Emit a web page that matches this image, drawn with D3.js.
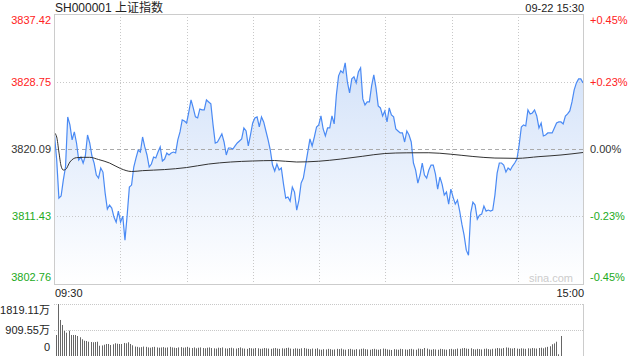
<!DOCTYPE html>
<html>
<head>
<meta charset="utf-8">
<script src="https://cdn.jsdelivr.net/npm/d3@7"></script>
<style>
  body { margin: 0; background: #fff; }
  svg text { font-family: "Liberation Sans", Arial, "Noto Sans CJK SC", sans-serif; }
</style>
</head>
<body>
<script>
// minute by minute close, 09:30 .. 15:00 (241 points)
var prices = [
  3821.89, 3818.68, 3813.79, 3814.05, 3816.10, 3817.78, 3824.21, 3823.18, 3821.25, 3822.28,
  3820.86, 3818.68, 3819.06, 3818.29, 3819.19, 3821.89, 3820.86, 3819.19, 3818.29, 3816.75,
  3816.36, 3817.65, 3817.13, 3814.43, 3812.37, 3812.89, 3812.50, 3811.35, 3810.70, 3812.12,
  3810.70, 3811.47, 3808.39, 3811.60, 3815.20, 3815.46, 3817.78, 3818.93, 3819.96, 3819.70,
  3821.63, 3820.35, 3819.32, 3817.78, 3818.16, 3819.06, 3818.93, 3819.70, 3820.35, 3818.55,
  3818.80, 3819.58, 3819.32, 3819.58, 3819.70, 3819.58, 3821.25, 3822.28, 3823.82, 3823.69,
  3823.43, 3824.85, 3826.39, 3825.36, 3824.21, 3824.08, 3825.23, 3825.11, 3825.11, 3826.39,
  3826.13, 3825.88, 3823.18, 3820.86, 3820.99, 3821.50, 3822.02, 3820.99, 3819.32, 3820.22,
  3820.22, 3820.09, 3820.48, 3820.86, 3821.12, 3821.38, 3822.79, 3822.40, 3820.48, 3821.89,
  3823.43, 3824.08, 3824.21, 3822.92, 3824.21, 3823.56, 3822.40, 3821.25, 3819.96, 3818.03,
  3817.26, 3818.16, 3817.39, 3817.65, 3815.59, 3813.79, 3813.92, 3813.40, 3815.20, 3814.56,
  3812.25, 3813.53, 3815.72, 3816.36, 3818.03, 3819.70, 3821.38, 3820.48, 3821.63, 3822.92,
  3823.18, 3824.33, 3822.66, 3821.76, 3822.79, 3822.79, 3824.33, 3823.31, 3827.03, 3829.48,
  3830.12, 3829.86, 3831.15, 3828.71, 3827.29, 3829.09, 3829.35, 3828.58, 3829.99, 3830.51,
  3826.52, 3825.75, 3826.13, 3826.13, 3828.19, 3829.61, 3827.93, 3825.62, 3825.36, 3824.33,
  3824.98, 3823.56, 3825.36, 3824.46, 3824.21, 3822.66, 3822.40, 3822.15, 3822.15, 3820.99,
  3822.40, 3821.89, 3820.99, 3818.29, 3817.39, 3815.72, 3816.75, 3818.29, 3816.75, 3816.36,
  3817.39, 3818.03, 3818.03, 3816.87, 3814.95, 3816.49, 3815.59, 3814.17, 3814.56, 3813.02,
  3814.95, 3813.92, 3813.02, 3813.53, 3812.12, 3810.44, 3809.03, 3807.10, 3806.46, 3811.86,
  3813.27, 3812.89, 3811.09, 3811.60, 3811.73, 3812.76, 3812.12, 3812.25, 3812.12, 3812.25,
  3814.17, 3817.00, 3818.29, 3818.29, 3818.03, 3817.13, 3817.65, 3817.39, 3817.90, 3818.29,
  3818.80, 3820.60, 3822.92, 3823.18, 3823.05, 3825.11, 3824.59, 3824.72, 3825.11, 3824.33,
  3822.79, 3823.43, 3821.76, 3821.89, 3822.15, 3822.15, 3822.15, 3822.79, 3823.43, 3823.56,
  3823.56, 3823.31, 3824.33, 3824.59, 3824.98, 3826.13, 3827.68, 3828.58, 3829.09, 3829.09,
  3828.58
];

// average price line, read at these minutes
var avgMinutes = [0, 1, 2, 3, 4, 5, 7, 10, 13, 16, 20, 25, 30, 35, 40, 50, 60, 70, 80, 90,
  100, 110, 120, 130, 140, 150, 160, 170, 180, 190, 200, 210, 220, 230, 240];
var avgPrices = [3822.15, 3821.63, 3819.70, 3817.90, 3817.39, 3817.45, 3818.42, 3818.98,
  3819.02, 3819.02, 3818.74, 3818.29, 3817.58, 3817.20, 3817.31, 3817.45, 3817.71, 3818.16,
  3818.42, 3818.55, 3818.61, 3818.42, 3818.52, 3818.80, 3819.16, 3819.51, 3819.60, 3819.61,
  3819.42, 3819.13, 3818.93, 3818.89, 3819.11, 3819.32, 3819.64];

// volume per minute, 万手
var volumes = [
  735, 1819.11, 1260, 1085, 875, 815, 885, 735, 735, 735,
  700, 655, 585, 535, 525, 500, 490, 480, 490, 500,
  360, 370, 395, 420, 420, 385, 410, 445, 430, 420,
  420, 455, 445, 480, 420, 375, 330, 320, 300, 310,
  330, 320, 300, 290, 310, 320, 300, 290, 300, 310,
  290, 300, 320, 300, 290, 280, 300, 310, 290, 300,
  320, 290, 280, 300, 270, 290, 300, 280, 270, 290,
  300, 280, 270, 260, 290, 280, 300, 270, 260, 280,
  290, 270, 260, 280, 300, 270, 260, 250, 280, 270,
  260, 280, 270, 250, 260, 280, 270, 260, 250, 270,
  280, 260, 250, 270, 260, 280, 290, 260, 250, 270,
  260, 250, 270, 280, 260, 250, 240, 260, 250, 270,
  230, 220, 240, 230, 250, 240, 220, 230, 250, 240,
  260, 230, 220, 240, 250, 230, 220, 240, 230, 250,
  260, 240, 230, 220, 240, 250, 230, 220, 240, 260,
  250, 230, 220, 210, 240, 230, 220, 250, 240, 230,
  220, 240, 250, 230, 220, 260, 250, 240, 280, 260,
  230, 220, 240, 230, 220, 250, 240, 230, 220, 240,
  250, 230, 240, 260, 250, 270, 280, 260, 250, 270,
  240, 230, 250, 240, 230, 250, 260, 240, 230, 250,
  260, 280, 270, 260, 280, 300, 290, 270, 260, 280,
  260, 250, 270, 260, 250, 270, 260, 280, 270, 260,
  280, 290, 270, 300, 320, 340, 410, 440, 500, 60,
  700
];

var priceTicks = [3837.42, 3828.75, 3820.09, 3811.43, 3802.76];
var pctTicks = ["+0.45%", "+0.23%", "0.00%", "-0.23%", "-0.45%"];
var volTicks = [1819.11, 909.55, 0];
var volTickLabels = ["1819.11万", "909.55万", "0"];
var timeTicks = [0, 30, 60, 90, 120, 150, 180, 210, 240];
var preClose = 3820.09;

var W = 640, H = 360;
var pLeft = 54, pRight = 584, pTop = 14, pBottom = 284;
var volTop = 304, volBottom = 356;

var svg = d3.select("body").append("svg")
    .attr("width", W)
    .attr("height", H);

var x = d3.scaleLinear().domain([0, 240]).range([pLeft + 0.5, pRight - 1]);
var xGrid = d3.scaleLinear().domain([0, 240]).range([pLeft, pRight]);
var y = d3.scaleLinear().domain([3802.76, 3837.42]).range([pBottom, pTop]);
var vy = d3.scaleLinear().domain([0, 1819.11]).range([volBottom, volTop]);

var colorOf = function(v) {
  if (v > preClose) return "#f22";
  if (v < preClose) return "#2a2";
  return "#333";
};

// gradient for the area
var defs = svg.append("defs");
var grad = defs.append("linearGradient")
    .attr("id", "fillGrad")
    .attr("gradientUnits", "userSpaceOnUse")
    .attr("x1", 0).attr("y1", pTop)
    .attr("x2", 0).attr("y2", pBottom);
grad.append("stop").attr("offset", "0%").attr("stop-color", "#cadcf8");
grad.append("stop").attr("offset", "100%").attr("stop-color", "#ffffff");

// title
svg.append("text")
    .attr("x", 55).attr("y", 11.5)
    .attr("fill", "#222")
    .style("font-size", "12px")
    .text("SH000001 上证指数");

svg.append("text")
    .attr("x", pRight).attr("y", 11.5)
    .attr("text-anchor", "end")
    .attr("fill", "#222")
    .style("font-size", "11px")
    .text("09-22 15:30");

// area + price line
var area = d3.area()
    .x(function(d, i) { return x(i); })
    .y0(pBottom)
    .y1(function(d) { return y(d); });

svg.append("path")
    .datum(prices)
    .attr("d", area)
    .attr("fill", "url(#fillGrad)");

// grid
svg.selectAll(".vgrid")
    .data(timeTicks.slice(1, -1))
    .enter().append("line")
    .attr("x1", function(d) { return Math.round(xGrid(d)) + 0.5; })
    .attr("x2", function(d) { return Math.round(xGrid(d)) + 0.5; })
    .attr("y1", pTop).attr("y2", pBottom)
    .style("stroke", "#c8c8c8")
    .style("stroke-dasharray", "1,2");

svg.selectAll(".hgrid")
    .data(priceTicks.slice(1, -1))
    .enter().append("line")
    .attr("x1", pLeft).attr("x2", pRight)
    .attr("y1", function(d) { return Math.round(y(d)) + 0.5; })
    .attr("y2", function(d) { return Math.round(y(d)) + 0.5; })
    .style("stroke", function(d) { return d == preClose ? "#aaa" : "#c8c8c8"; })
    .style("stroke-dasharray", function(d) { return d == preClose ? "4,3" : "1,2"; });

var line = d3.line()
    .x(function(d, i) { return x(i); })
    .y(function(d) { return y(d); });

svg.append("path")
    .datum(prices)
    .attr("d", line)
    .attr("fill", "none")
    .style("stroke", "#4a8af4")
    .style("stroke-width", "1.2px");

var avgLine = d3.line()
    .curve(d3.curveMonotoneX)
    .x(function(d, i) { return x(avgMinutes[i]); })
    .y(function(d) { return y(d); });

svg.append("path")
    .datum(avgPrices)
    .attr("d", avgLine)
    .attr("fill", "none")
    .style("stroke", "#333")
    .style("stroke-width", "1px");

// frame
svg.append("rect")
    .attr("x", pLeft + 0.5).attr("y", pTop + 0.5)
    .attr("width", pRight - pLeft - 1).attr("height", pBottom - pTop)
    .attr("fill", "none")
    .style("stroke", "#ccc");

// watermark
svg.append("text")
    .attr("x", 573).attr("y", 282)
    .attr("text-anchor", "end")
    .attr("fill", "#ccc")
    .style("font-size", "11px")
    .text("sina.com");

// price labels
priceTicks.forEach(function(v, i) {
  var yy = y(v);
  var base = i == 0 ? yy + 10 : (i == priceTicks.length - 1 ? yy - 3.5 : yy + 4);
  svg.append("text")
      .attr("x", 51).attr("y", base)
      .attr("text-anchor", "end")
      .attr("fill", colorOf(v))
      .style("font-size", "11px")
      .text(v.toFixed(2));
  svg.append("text")
      .attr("x", 590).attr("y", base)
      .attr("fill", colorOf(v))
      .style("font-size", "11px")
      .text(pctTicks[i]);
});

// time labels
svg.append("text")
    .attr("x", 55).attr("y", 296.5)
    .attr("fill", "#222")
    .style("font-size", "11px")
    .text("09:30");
svg.append("text")
    .attr("x", pRight).attr("y", 296.5)
    .attr("text-anchor", "end")
    .attr("fill", "#222")
    .style("font-size", "11px")
    .text("15:00");

// volume panel
svg.selectAll(".vgridline")
    .data(volTicks.slice(0, 2))
    .enter().append("line")
    .attr("x1", pLeft).attr("x2", pRight)
    .attr("y1", function(d) { return Math.round(vy(d)) + 0.5; })
    .attr("y2", function(d) { return Math.round(vy(d)) + 0.5; })
    .style("stroke", "#c8c8c8")
    .style("stroke-dasharray", "1,1");

svg.append("line")
    .attr("x1", pRight - 0.5).attr("x2", pRight - 0.5)
    .attr("y1", volTop).attr("y2", volBottom)
    .style("stroke", "#ccc");

var vx = d3.scaleLinear().domain([0, 240]).range([pLeft + 1.5, pRight - 1.5]);
svg.selectAll(".vbar")
    .data(volumes)
    .enter().append("line")
    .attr("x1", function(d, i) { return Math.round(vx(i)) + 0.5; })
    .attr("x2", function(d, i) { return Math.round(vx(i)) + 0.5; })
    .attr("y1", volBottom)
    .attr("y2", function(d) { return vy(d); })
    .style("stroke", "#666")
    .style("stroke-width", "1px");

volTicks.forEach(function(v, i) {
  var yy = vy(v);
  var base = i == 0 ? yy + 9.5 : (i == volTicks.length - 1 ? yy - 5.5 : yy + 4);
  svg.append("text")
      .attr("x", 50).attr("y", base)
      .attr("text-anchor", "end")
      .attr("fill", "#222")
      .style("font-size", "11px")
      .text(volTickLabels[i]);
});
</script>
</body>
</html>
